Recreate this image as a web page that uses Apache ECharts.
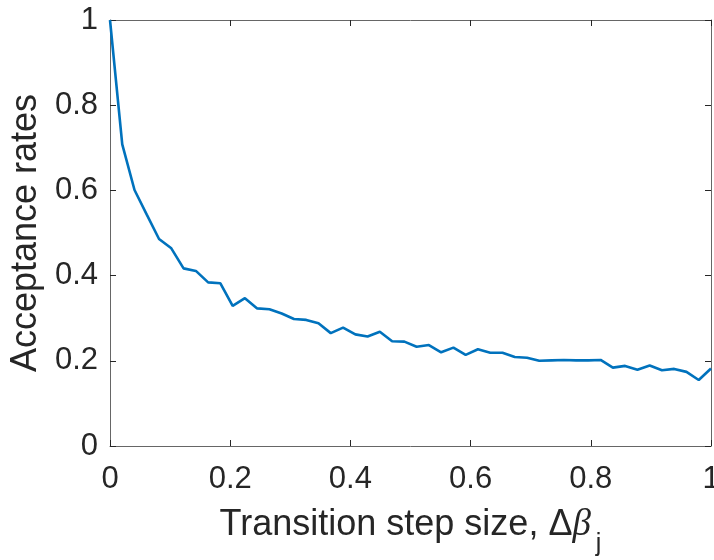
<!DOCTYPE html>
<html>
<head>
<meta charset="utf-8">
<script src="https://cdn.jsdelivr.net/npm/echarts@6/dist/echarts.min.js"></script>
<style>
  html, body { margin: 0; padding: 0; background: #fff; }
  #chart { width: 714px; height: 560px; }
</style>
</head>
<body>
<div id="chart"></div>
<script>
// Step sizes (50 evenly spaced values from 0 to 1)
const stepSizes = [
  0, 0.0204, 0.0408, 0.0612, 0.0816, 0.1020, 0.1224, 0.1429, 0.1633, 0.1837,
  0.2041, 0.2245, 0.2449, 0.2653, 0.2857, 0.3061, 0.3265, 0.3469, 0.3673, 0.3878,
  0.4082, 0.4286, 0.4490, 0.4694, 0.4898, 0.5102, 0.5306, 0.5510, 0.5714, 0.5918,
  0.6122, 0.6327, 0.6531, 0.6735, 0.6939, 0.7143, 0.7347, 0.7551, 0.7755, 0.7959,
  0.8163, 0.8367, 0.8571, 0.8776, 0.8980, 0.9184, 0.9388, 0.9592, 0.9796, 1
];

// Measured acceptance rate at each step size
const acceptanceRates = [
  1.000, 0.708, 0.601, 0.543, 0.486, 0.464, 0.417, 0.411, 0.384, 0.382,
  0.329, 0.347, 0.323, 0.321, 0.311, 0.298, 0.296, 0.288, 0.265, 0.278,
  0.262, 0.257, 0.268, 0.246, 0.245, 0.233, 0.237, 0.220, 0.231, 0.214,
  0.227, 0.219, 0.219, 0.209, 0.207, 0.200, 0.201, 0.202, 0.201, 0.201,
  0.202, 0.184, 0.188, 0.179, 0.189, 0.178, 0.181, 0.174, 0.155, 0.182
];

const xTickLabels = ['0', '0.2', '0.4', '0.6', '0.8', '1'];
const yTickLabels = ['0', '0.2', '0.4', '0.6', '0.8', '1'];

const FONT = "'Liberation Sans', Helvetica, Arial, sans-serif";
const AXIS_COLOR = '#262626';
const BOX_COLOR = '#666666';

function tickText(labels) {
  return function (v) {
    const i = Math.round(v / 0.2);
    return labels[i] !== undefined ? labels[i] : '';
  };
}

const chart = echarts.init(document.getElementById('chart'), null, { renderer: 'canvas' });

const baseAxis = {
  type: 'value',
  min: 0,
  max: 1,
  interval: 0.2,
  splitLine: { show: false },
  axisLine: { show: true, onZero: false, lineStyle: { color: BOX_COLOR, width: 1 } },
  axisTick: { show: true, inside: true, length: 6, lineStyle: { color: AXIS_COLOR, width: 1 } }
};

chart.setOption({
  animation: false,
  backgroundColor: '#ffffff',
  grid: { left: 110, right: 3, top: 20, bottom: 114, containLabel: false, outerBoundsMode: 'none' },
  xAxis: [
    Object.assign({}, baseAxis, {
      position: 'bottom',
      axisLabel: {
        show: true, color: AXIS_COLOR, fontSize: 31, fontFamily: FONT, margin: 18,
        formatter: tickText(xTickLabels)
      },
      name: '{t|Transition step size, Δ}{b|β}{s|j}',
      nameLocation: 'middle',
      nameGap: 61,
      nameTextStyle: {
        color: AXIS_COLOR,
        fontFamily: FONT,
        rich: {
          t: { fontSize: 36, fontFamily: FONT, color: AXIS_COLOR, lineHeight: 38, verticalAlign: 'top' },
          b: { fontSize: 37, fontFamily: "'Liberation Serif', serif", fontStyle: 'italic', color: AXIS_COLOR, lineHeight: 38, verticalAlign: 'top' },
          s: { fontSize: 25, fontFamily: FONT, color: AXIS_COLOR, lineHeight: 25, padding: [25, 0, 0, 5], verticalAlign: 'top' }
        }
      }
    }),
    Object.assign({}, baseAxis, {
      position: 'top',
      axisLabel: { show: false }
    })
  ],
  yAxis: [
    Object.assign({}, baseAxis, {
      position: 'left',
      axisLabel: {
        show: true, color: AXIS_COLOR, fontSize: 31, fontFamily: FONT, margin: 12,
        formatter: tickText(yTickLabels)
      },
      name: 'Acceptance rates',
      nameLocation: 'middle',
      nameGap: 66,
      nameTextStyle: { color: AXIS_COLOR, fontSize: 36, fontFamily: FONT }
    }),
    Object.assign({}, baseAxis, {
      position: 'right',
      axisLabel: { show: false }
    })
  ],
  series: [{
    type: 'line',
    xAxisIndex: 0,
    yAxisIndex: 0,
    data: stepSizes.map((x, i) => [x, acceptanceRates[i]]),
    showSymbol: false,
    symbol: 'none',
    clip: false,
    lineStyle: { color: '#0072BD', width: 2.6 },
    emphasis: { disabled: true }
  }]
});
</script>
</body>
</html>
